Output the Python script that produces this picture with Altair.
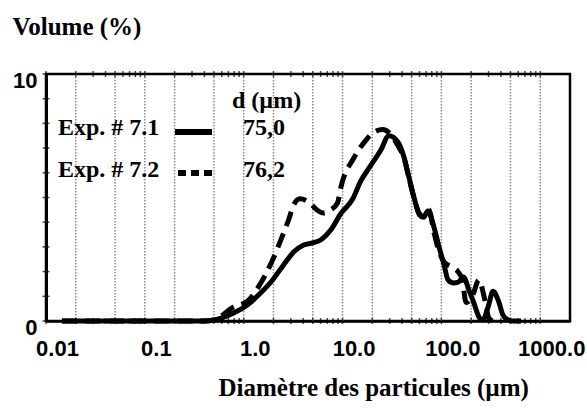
import altair as alt
import pandas as pd

# Particle size distributions (volume %) for the two experiments
diam_71 = [0.0145, 0.05, 0.15, 0.4, 0.5, 0.79, 1.09, 1.48, 1.96, 2.53, 3.2, 4.04,
           4.98, 6.01, 7.59, 9.6, 12.7, 15.3, 18.0, 24.4, 29.4, 36.3, 41.8, 46.9,
           52.7, 60, 66, 73, 84, 94.6, 106, 117, 133, 149, 167, 190, 213, 240,
           262, 297, 333, 375, 420, 473, 520, 640]
vol_71 = [0, 0, 0, 0, 0.04, 0.32, 0.65, 1.13, 1.66, 2.27, 2.79, 3.08,
          3.16, 3.28, 3.68, 4.35, 4.95, 5.67, 6.12, 6.92, 7.5, 7.25, 6.64, 5.83,
          5.02, 4.3, 4.2, 4.45, 3.81, 3.0, 2.3, 1.66, 1.54, 1.58, 1.78, 1.25, 0.73, 0.16,
          0.04, 0.57, 1.2, 0.85, 0.24, 0.04, 0, 0]

diam_72 = [0.0145, 0.05, 0.15, 0.4, 0.5, 0.79, 1.09, 1.41, 1.96, 2.53, 2.85, 3.2,
           3.7, 4.6, 5.5, 6.44, 7.59, 8.9, 9.6, 13.0, 17.1, 20, 25.5, 30.8, 36.3,
           41.8, 46.9, 52.7, 60, 66, 75, 84, 95, 106, 125, 147, 162, 178, 205, 240,
           270, 304, 330]
vol_72 = [0, 0, 0, 0, 0.04, 0.57, 0.8, 1.38, 2.47, 3.56, 4.1, 4.7,
          4.95, 4.8, 4.5, 4.37, 4.5, 4.78, 5.4, 6.6, 7.3, 7.6, 7.75, 7.55, 7.1,
          6.6, 5.8, 5.0, 4.35, 4.25, 4.5, 3.6, 2.8, 2.4, 2.2, 2.0, 1.7, 0.75, 1.0, 1.66,
          1.0, 0.1, 0]

series_names = ["Exp. # 7.1", "Exp. # 7.2"]
median_d = ["75,0", "76,2"]

# Axis furniture
grid_d = [0.02, 0.05, 0.1, 0.2, 0.5, 1, 2, 5, 10, 20, 50, 100, 200, 500, 1000]
decades = [0.01, 0.1, 1, 10, 100, 1000]
decade_labels = ["0.01", "0.1", "1.0", "10.0", "100.0", "1000.0"]
minor_k = [1, 2, 3, 4, 5, 6, 7, 8, 9]
y_ticks = [0, 1, 2, 3, 4, 5, 6, 7, 8, 9, 10]
y_labels = [0, 10]

W, H = 524, 247
SERIF = "Liberation Serif"
SANS = "Liberation Sans"

curves = pd.concat([
    pd.DataFrame({"d": diam_71, "v": vol_71, "exp": series_names[0]}),
    pd.DataFrame({"d": diam_72, "v": vol_72, "exp": series_names[1]}),
])
x_ticks = [k * dec for dec in decades[:-1] for k in minor_k] + [decades[-1]]

xs = alt.Scale(type="log", domain=[0.01, 2000], nice=False)
ys = alt.Scale(domain=[0, 10], nice=False)

label_expr = "[" + ",".join(f"'{s}'" for s in decade_labels) + "][round(log(datum.value)/LN10)+2]"

x_axis = alt.Axis(
    values=decades, labelExpr=label_expr, ticks=False, tickSize=0, grid=False,
    domain=True, domainColor="black", domainWidth=2.5,
    labelFont=SANS, labelFontWeight="bold", labelFontSize=22, labelColor="black",
    labelPadding=17, labelOffset=11, labelFlush=False, labelOverlap=False,
    title="Diamètre des particules (µm)", titleFont=SERIF, titleFontWeight="bold",
    titleFontSize=25, titleColor="black", titleAnchor="start", titleAlign="left",
    titleX=172, titleY=74, titleBaseline="alphabetic",
)
y_axis = alt.Axis(
    values=y_labels, ticks=False, tickSize=0, grid=False,
    domain=True, domainColor="black", domainWidth=3,
    labelFont=SANS, labelFontWeight="bold", labelFontSize=22, labelColor="black",
    labelPadding=9, labelOffset=6, labelFlush=False,
    title="Volume (%)", titleFont=SERIF, titleFontWeight="bold", titleFontSize=25,
    titleColor="black", titleAngle=0, titleAlign="left", titleBaseline="alphabetic",
    titleX=-34, titleY=-40,
)
X = alt.X("d:Q", scale=xs, axis=x_axis)
Y = alt.Y("v:Q", scale=ys, axis=y_axis)

# Dotted vertical grid at 1-2-5 steps
grid = alt.Chart(pd.DataFrame({"d": grid_d})).mark_rule(
    color="#8a8a8a", strokeWidth=1.5, strokeDash=[1.5, 1.5]
).encode(x=X)

dash_line = alt.Chart(curves).transform_filter(
    alt.datum.exp == series_names[1]
).mark_line(color="black", strokeWidth=5, strokeDash=[15, 8], interpolate="monotone").encode(
    x=X, y=Y)
solid_line = alt.Chart(curves).transform_filter(
    alt.datum.exp == series_names[0]
).mark_line(color="black", strokeWidth=5, interpolate="monotone").encode(
    x=X, y=Y)

xtick_df = pd.DataFrame({"d": x_ticks})
ticks_bottom = alt.Chart(xtick_df).mark_tick(color="black", size=6, thickness=1.5).encode(
    x=X, y=alt.value(H))
ticks_top = alt.Chart(xtick_df).mark_tick(color="black", size=6, thickness=1.5).encode(
    x=X, y=alt.value(0))
ticks_left = alt.Chart(pd.DataFrame({"v": y_ticks})).mark_tick(
    color="black", size=7, thickness=1.5, orient="horizontal").encode(
    y=Y, x=alt.value(0))

# Legend block drawn inside the plot
legend_df = pd.DataFrame({"name": series_names, "d": median_d})
txt = dict(align="left", baseline="alphabetic", font=SERIF, fontWeight="bold",
           fontSize=24, color="black")
legend_layers = [
    alt.Chart(legend_df.head(1)).mark_text(**txt).encode(
        text=alt.value("d (µm)"), x=alt.value(186), y=alt.value(34)),
    alt.Chart(legend_df.iloc[[0]]).mark_text(**txt).encode(
        text="name:N", x=alt.value(12), y=alt.value(61)),
    alt.Chart(legend_df.iloc[[0]]).mark_text(**txt).encode(
        text="d:N", x=alt.value(197), y=alt.value(61)),
    alt.Chart(legend_df.iloc[[1]]).mark_text(**txt).encode(
        text="name:N", x=alt.value(12), y=alt.value(103)),
    alt.Chart(legend_df.iloc[[1]]).mark_text(**txt).encode(
        text="d:N", x=alt.value(197), y=alt.value(103)),
    alt.Chart(legend_df.iloc[[0]]).mark_rule(color="black", strokeWidth=6).encode(
        x=alt.value(129), x2=alt.value(166), y=alt.value(58)),
    alt.Chart(legend_df.iloc[[1]]).mark_rule(color="black", strokeWidth=6, strokeDash=[8, 5]).encode(
        x=alt.value(132), x2=alt.value(166), y=alt.value(99)),
]

chart = alt.layer(
    grid, dash_line, solid_line, ticks_bottom, ticks_top, ticks_left, *legend_layers
).properties(
    width=W, height=H,
    autosize=alt.AutoSizeParams(type="none"),
    padding={"left": 46, "top": 74, "right": 17, "bottom": 89},
    background="white",
).configure_view(
    stroke="black", strokeWidth=2.5
)

chart.save("out.html", embed_options={"renderer": "svg", "actions": False})
